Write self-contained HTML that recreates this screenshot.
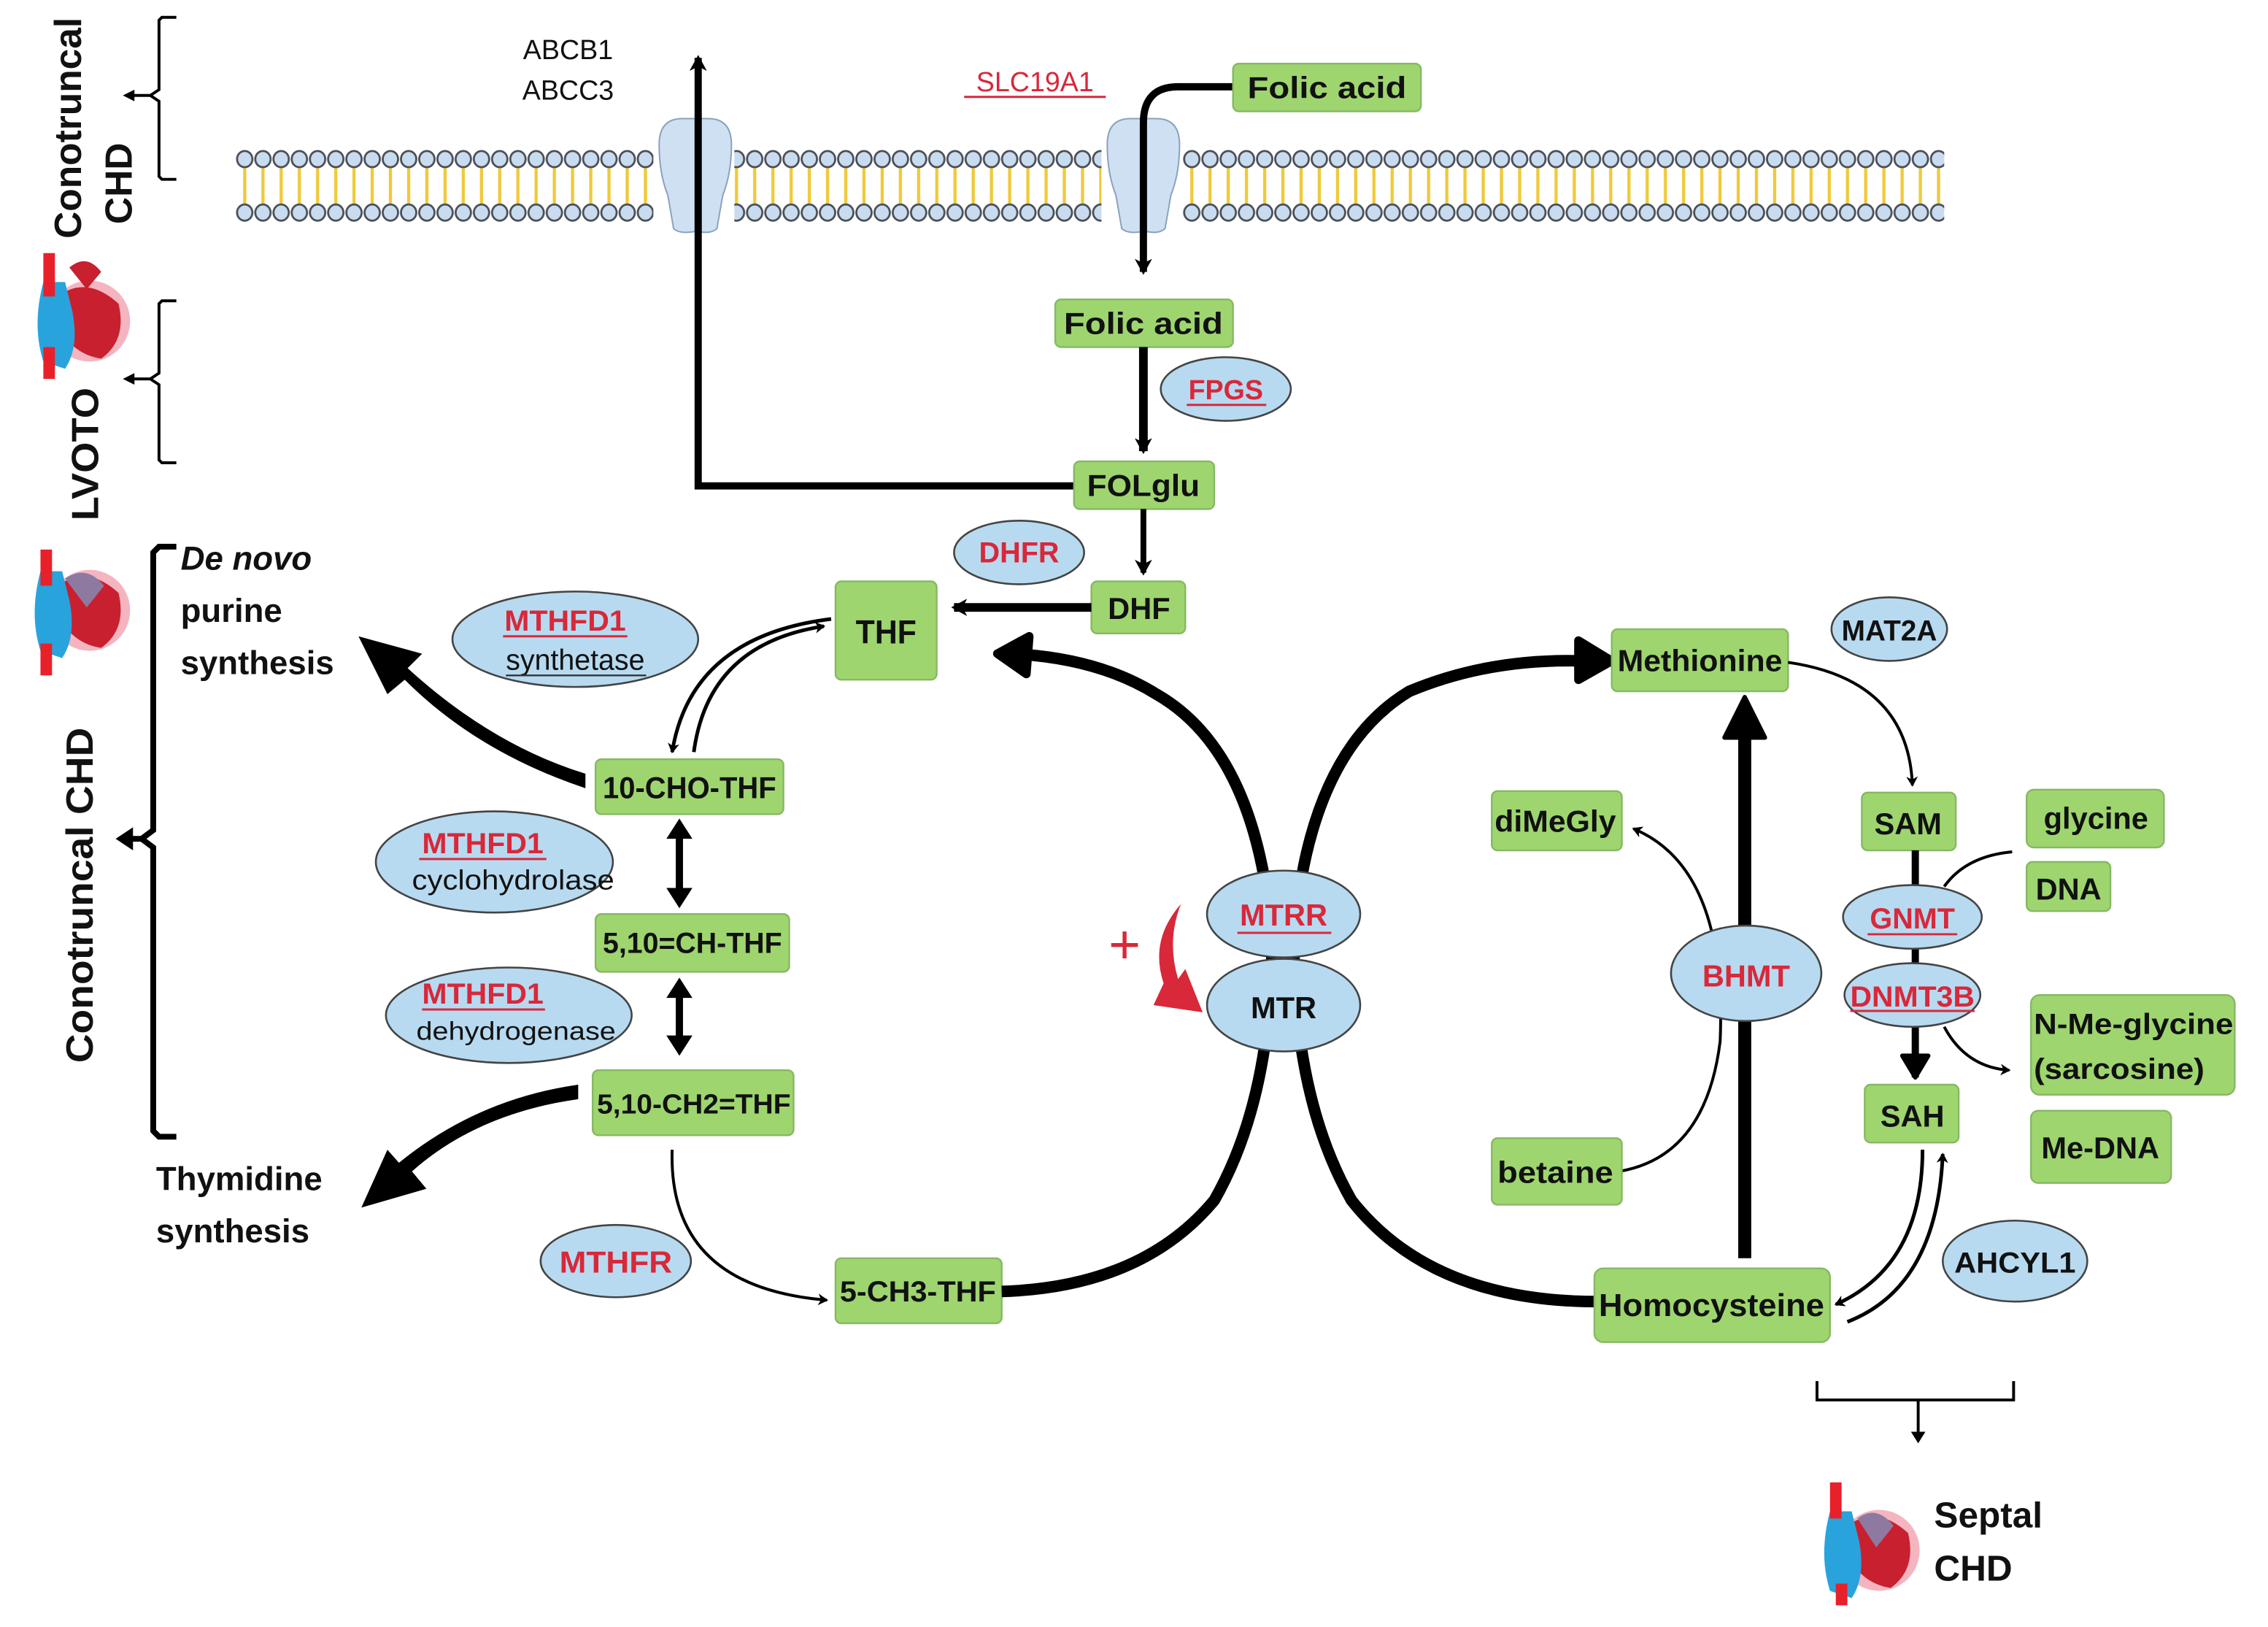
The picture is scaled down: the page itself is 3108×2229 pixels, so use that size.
<!DOCTYPE html>
<html><head><meta charset="utf-8"><style>
html,body{margin:0;padding:0;background:#fff}
svg{display:block}
text{font-family:"Liberation Sans",Arial,sans-serif;font-weight:bold}
.g{fill:#9ed56f;stroke:#86b863;stroke-width:1.2}
.e{fill:#b7daf0;stroke:#444;stroke-width:1.3}
.r{fill:#d8283a}
.k{fill:#111}
</style></head><body>
<svg width="3108" height="2229" viewBox="0 0 1569 1125" preserveAspectRatio="none" xmlns="http://www.w3.org/2000/svg">
<defs>
<pattern id="mem" x="163" y="0" width="12.6" height="1125" patternUnits="userSpaceOnUse">
<line x1="6.3" y1="114" x2="6.3" y2="143" stroke="#f0c93a" stroke-width="2.2"/>
<ellipse cx="6.3" cy="110" rx="5.3" ry="5.6" fill="#c9dcef" stroke="#4a4f57" stroke-width="1.4"/>
<ellipse cx="6.3" cy="147" rx="5.3" ry="5.6" fill="#c9dcef" stroke="#4a4f57" stroke-width="1.4"/>
</pattern>
<marker id="ah" markerWidth="8" markerHeight="8" refX="6" refY="4" orient="auto" markerUnits="userSpaceOnUse">
<path d="M0,0 L7,4 L0,8 L2,4z" fill="#000"/></marker>
<marker id="ah2" markerWidth="12" markerHeight="12" refX="9" refY="6" orient="auto" markerUnits="userSpaceOnUse">
<path d="M0,0 L11,6 L0,12 L3,6z" fill="#000"/></marker>
</defs>

<rect x="163" y="100" width="1182" height="56" fill="url(#mem)"/>
<rect x="452" y="98" width="56" height="60" fill="#fff"/>
<rect x="762" y="98" width="56" height="60" fill="#fff"/>
<g fill="#cfe0f2" stroke="#8aa2bd" stroke-width="1">
<path d="M456,100 Q456,82 472,82 L481,82 L481,160 Q470,162 466,158 L462,135 Q456,120 456,100z"/>
<path d="M506,100 Q506,82 490,82 L483,82 L483,160 Q492,162 496,158 L500,135 Q506,120 506,100z"/>
<path d="M766,100 Q766,82 782,82 L791,82 L791,160 Q780,162 776,158 L772,135 Q766,120 766,100z"/>
<path d="M816,100 Q816,82 800,82 L793,82 L793,160 Q802,162 806,158 L810,135 Q816,120 816,100z"/>
</g>

<path d="M743,336 L483,336 L483,40" fill="none" stroke="#000" stroke-width="5" marker-end="url(#ah2)"/>
<path d="M853,60 L815,60 Q791,60 791,85 L791,188" fill="none" stroke="#000" stroke-width="5" marker-end="url(#ah2)"/>

<text x="393" y="41" font-size="19" style="font-weight:normal" text-anchor="middle" class="k">ABCB1</text>
<text x="393" y="69" font-size="19" style="font-weight:normal" text-anchor="middle" class="k">ABCC3</text>
<text x="716" y="63" font-size="19" style="font-weight:normal" text-anchor="middle" class="r">SLC19A1</text>
<line x1="667" y1="67" x2="765" y2="67" stroke="#d8283a" stroke-width="1.5"/>

<rect class="g" x="853" y="44" width="130" height="33" rx="4"/>
<text x="918" y="68" font-size="21" text-anchor="middle" class="k" textLength="110" lengthAdjust="spacingAndGlyphs">Folic acid</text>

<rect class="g" x="730" y="207" width="123" height="33" rx="4"/>
<text x="791" y="231" font-size="21" text-anchor="middle" class="k" textLength="110" lengthAdjust="spacingAndGlyphs">Folic acid</text>
<ellipse class="e" cx="848" cy="269" rx="45" ry="22"/>
<text x="848" y="276" font-size="19" text-anchor="middle" class="r">FPGS</text>
<line x1="821" y1="280" x2="876" y2="280" stroke="#d8283a" stroke-width="1.5"/>
<line x1="791" y1="240" x2="791" y2="312" stroke="#000" stroke-width="6" marker-end="url(#ah2)"/>

<rect class="g" x="743" y="319" width="97" height="33" rx="4"/>
<text x="791" y="343" font-size="21" text-anchor="middle" class="k" textLength="78" lengthAdjust="spacingAndGlyphs">FOLglu</text>
<line x1="791" y1="352" x2="791" y2="396" stroke="#000" stroke-width="4" marker-end="url(#ah2)"/>
<ellipse class="e" cx="705" cy="382" rx="45" ry="22"/>
<text x="705" y="389" font-size="20" text-anchor="middle" class="r">DHFR</text>

<rect class="g" x="755" y="402" width="65" height="36" rx="4"/>
<text x="788" y="428" font-size="21" text-anchor="middle" class="k">DHF</text>
<line x1="755" y1="420" x2="660" y2="420" stroke="#000" stroke-width="6" marker-end="url(#ah2)"/>

<rect class="g" x="578" y="402" width="70" height="68" rx="4"/>
<text x="613" y="445" font-size="23" text-anchor="middle" class="k" textLength="42" lengthAdjust="spacingAndGlyphs">THF</text>

<ellipse class="e" cx="398" cy="442" rx="85" ry="33"/>
<text x="391" y="436" font-size="20" text-anchor="middle" class="r" textLength="84" lengthAdjust="spacingAndGlyphs">MTHFD1</text>
<line x1="348" y1="440" x2="434" y2="440" stroke="#d8283a" stroke-width="1.5"/>
<text x="398" y="463" font-size="20" style="font-weight:normal" text-anchor="middle" class="k" textLength="96" lengthAdjust="spacingAndGlyphs">synthetase</text>
<line x1="350" y1="467" x2="447" y2="467" stroke="#333" stroke-width="1.2"/>

<path d="M480,520 Q490,445 570,433" fill="none" stroke="#000" stroke-width="2.5" marker-end="url(#ah)"/>
<path d="M575,428 Q478,440 465,520" fill="none" stroke="#000" stroke-width="2.5" marker-end="url(#ah)"/>

<rect class="g" x="412" y="525" width="130" height="38" rx="4"/>
<text x="477" y="552" font-size="21" text-anchor="middle" class="k" textLength="120" lengthAdjust="spacingAndGlyphs">10-CHO-THF</text>

<path d="M405,545 Q330,520 280,470 L268,480 L248,440 L292,452 L282,462 Q340,515 405,535z" fill="#000"/>

<ellipse class="e" cx="342" cy="596" rx="82" ry="35"/>
<text x="334" y="590" font-size="20" text-anchor="middle" class="r" textLength="84" lengthAdjust="spacingAndGlyphs">MTHFD1</text>
<line x1="290" y1="594" x2="378" y2="594" stroke="#d8283a" stroke-width="1.5"/>
<text x="355" y="615" font-size="19" style="font-weight:normal" text-anchor="middle" class="k" textLength="140" lengthAdjust="spacingAndGlyphs">cyclohydrolase</text>

<line x1="470" y1="575" x2="470" y2="620" stroke="#000" stroke-width="5"/>
<path d="M461,580 L470,566 L479,580z M461,614 L470,628 L479,614z" fill="#000"/>

<rect class="g" x="412" y="632" width="134" height="40" rx="4"/>
<text x="479" y="659" font-size="20" text-anchor="middle" class="k" textLength="124" lengthAdjust="spacingAndGlyphs">5,10=CH-THF</text>

<ellipse class="e" cx="352" cy="702" rx="85" ry="33"/>
<text x="334" y="694" font-size="20" text-anchor="middle" class="r" textLength="84" lengthAdjust="spacingAndGlyphs">MTHFD1</text>
<line x1="292" y1="698" x2="377" y2="698" stroke="#d8283a" stroke-width="1.5"/>
<text x="357" y="719" font-size="18" style="font-weight:normal" text-anchor="middle" class="k" textLength="138" lengthAdjust="spacingAndGlyphs">dehydrogenase</text>

<line x1="470" y1="686" x2="470" y2="720" stroke="#000" stroke-width="5"/>
<path d="M461,690 L470,676 L479,690z M461,716 L470,730 L479,716z" fill="#000"/>

<rect class="g" x="410" y="740" width="139" height="45" rx="4"/>
<text x="480" y="770" font-size="19" text-anchor="middle" class="k" textLength="134" lengthAdjust="spacingAndGlyphs">5,10-CH2=THF</text>

<path d="M400,760 Q330,770 285,810 L295,822 L250,835 L268,795 L276,804 Q330,760 400,750z" fill="#000"/>

<ellipse class="e" cx="426" cy="872" rx="52" ry="25"/>
<text x="426" y="880" font-size="21" text-anchor="middle" class="r" textLength="78" lengthAdjust="spacingAndGlyphs">MTHFR</text>

<path d="M465,795 Q462,890 572,899" fill="none" stroke="#000" stroke-width="2" marker-end="url(#ah)"/>

<rect class="g" x="578" y="870" width="115" height="45" rx="4"/>
<text x="635" y="900" font-size="20" text-anchor="middle" class="k" textLength="108" lengthAdjust="spacingAndGlyphs">5-CH3-THF</text>

<path d="M693,893 Q790,890 840,830 Q880,760 880,650 Q870,520 800,480 Q760,455 700,452" fill="none" stroke="#000" stroke-width="8"/>
<path d="M712,440 L690,452 L710,466z" fill="#000" stroke="#000" stroke-width="6" stroke-linejoin="round"/>
<path d="M1105,900 Q990,900 935,830 Q895,760 895,650 Q905,520 975,478 Q1030,455 1095,457" fill="none" stroke="#000" stroke-width="8"/>
<path d="M1092,443 L1115,457 L1092,470z" fill="#000" stroke="#000" stroke-width="6" stroke-linejoin="round"/>

<ellipse class="e" cx="888" cy="632" rx="53" ry="30"/>
<text x="888" y="640" font-size="21" text-anchor="middle" class="r">MTRR</text>
<line x1="856" y1="645" x2="921" y2="645" stroke="#d8283a" stroke-width="1.5"/>
<ellipse class="e" cx="888" cy="695" rx="53" ry="32"/>
<text x="888" y="704" font-size="21" text-anchor="middle" class="k">MTR</text>

<text x="778" y="666" font-size="38" style="font-weight:normal" text-anchor="middle" class="r">+</text>
<path d="M817,625 Q795,650 805,680 L798,695 L832,700 L820,670 L815,677 Q807,650 817,625z" fill="#d8283a"/>

<rect class="g" x="1115" y="435" width="122" height="43" rx="4"/>
<text x="1176" y="464" font-size="21" text-anchor="middle" class="k" textLength="114" lengthAdjust="spacingAndGlyphs">Methionine</text>
<ellipse class="e" cx="1307" cy="435" rx="40" ry="22"/>
<text x="1307" y="443" font-size="20" text-anchor="middle" class="k" textLength="66" lengthAdjust="spacingAndGlyphs">MAT2A</text>
<path d="M1237,458 Q1320,470 1323,543" fill="none" stroke="#000" stroke-width="2" marker-end="url(#ah)"/>

<rect class="g" x="1288" y="548" width="65" height="40" rx="4"/>
<text x="1320" y="577" font-size="21" text-anchor="middle" class="k">SAM</text>
<rect class="g" x="1402" y="546" width="95" height="40" rx="5"/>
<text x="1450" y="573" font-size="21" text-anchor="middle" class="k">glycine</text>
<rect class="g" x="1402" y="596" width="58" height="34" rx="4"/>
<text x="1431" y="622" font-size="21" text-anchor="middle" class="k">DNA</text>

<line x1="1325" y1="588" x2="1325" y2="745" stroke="#000" stroke-width="5"/>
<path d="M1316,730 L1325,745 L1334,730z" fill="#000" stroke="#000" stroke-width="3" stroke-linejoin="round"/>
<path d="M1392,589 Q1360,592 1345,613" fill="none" stroke="#000" stroke-width="2"/>
<path d="M1345,710 Q1360,738 1390,740" fill="none" stroke="#000" stroke-width="2" marker-end="url(#ah)"/>

<ellipse class="e" cx="1323" cy="634" rx="48" ry="22"/>
<text x="1323" y="642" font-size="20" text-anchor="middle" class="r">GNMT</text>
<line x1="1292" y1="646" x2="1354" y2="646" stroke="#d8283a" stroke-width="1.5"/>
<ellipse class="e" cx="1323" cy="688" rx="47" ry="22"/>
<text x="1323" y="696" font-size="20" text-anchor="middle" class="r" textLength="86" lengthAdjust="spacingAndGlyphs">DNMT3B</text>
<line x1="1280" y1="699" x2="1366" y2="699" stroke="#d8283a" stroke-width="1.5"/>

<rect class="g" x="1405" y="688" width="141" height="69" rx="6"/>
<text x="1476" y="715" font-size="20" text-anchor="middle" class="k" textLength="138" lengthAdjust="spacingAndGlyphs">N-Me-glycine</text>
<text x="1466" y="746" font-size="20" text-anchor="middle" class="k" textLength="118" lengthAdjust="spacingAndGlyphs">(sarcosine)</text>
<rect class="g" x="1405" y="768" width="97" height="50" rx="5"/>
<text x="1453" y="801" font-size="21" text-anchor="middle" class="k">Me-DNA</text>

<rect class="g" x="1290" y="750" width="65" height="40" rx="4"/>
<text x="1323" y="779" font-size="21" text-anchor="middle" class="k">SAH</text>

<path d="M1330,795 Q1330,875 1270,902" fill="none" stroke="#000" stroke-width="2.5" marker-end="url(#ah)"/>
<path d="M1278,914 Q1340,890 1344,798" fill="none" stroke="#000" stroke-width="2.5" marker-end="url(#ah)"/>

<ellipse class="e" cx="1394" cy="872" rx="50" ry="28"/>
<text x="1394" y="880" font-size="20" text-anchor="middle" class="k" textLength="84" lengthAdjust="spacingAndGlyphs">AHCYL1</text>

<rect class="g" x="1103" y="877" width="163" height="51" rx="6"/>
<text x="1184" y="910" font-size="22" text-anchor="middle" class="k" textLength="156" lengthAdjust="spacingAndGlyphs">Homocysteine</text>

<line x1="1207" y1="870" x2="1207" y2="505" stroke="#000" stroke-width="9"/>
<path d="M1193,510 L1207,482 L1221,510z" fill="#000" stroke="#000" stroke-width="3" stroke-linejoin="round"/>

<path d="M1120,810 Q1180,800 1190,720 Q1195,600 1130,573" fill="none" stroke="#000" stroke-width="2" marker-end="url(#ah)"/>
<rect class="g" x="1032" y="547" width="90" height="41" rx="4"/>
<text x="1076" y="575" font-size="21" text-anchor="middle" class="k" textLength="84" lengthAdjust="spacingAndGlyphs">diMeGly</text>
<rect class="g" x="1032" y="787" width="90" height="46" rx="4"/>
<text x="1076" y="818" font-size="21" text-anchor="middle" class="k" textLength="80" lengthAdjust="spacingAndGlyphs">betaine</text>
<ellipse class="e" cx="1208" cy="673" rx="52" ry="33"/>
<text x="1208" y="682" font-size="21" text-anchor="middle" class="r">BHMT</text>

<g fill="none" stroke="#000" stroke-width="2">
<path d="M122,12 L112,12 L110,14 L110,62 L104,66 L110,70 L110,122 L112,124 L122,124"/>
<path d="M122,208 L112,208 L110,210 L110,258 L104,262 L110,266 L110,318 L112,320 L122,320"/>
<line x1="104" y1="66" x2="90" y2="66"/>
<line x1="104" y1="262" x2="90" y2="262"/>
</g>
<path d="M85,66 L93,62 L93,70z M85,262 L93,258 L93,266z" fill="#000"/>
<g fill="none" stroke="#000" stroke-width="4">
<path d="M122,378 L110,378 L106,382 L106,574 L98,580 L106,586 L106,782 L110,786 L122,786"/>
<line x1="98" y1="580" x2="88" y2="580"/>
</g>
<path d="M80,580 L92,572 L92,588z" fill="#000"/>

<text transform="translate(56,165) rotate(-90)" font-size="26" class="k" textLength="153" lengthAdjust="spacingAndGlyphs">Conotruncal</text>
<text transform="translate(91,155) rotate(-90)" font-size="26" class="k">CHD</text>
<text transform="translate(68,360) rotate(-90)" font-size="26" class="k" textLength="92" lengthAdjust="spacingAndGlyphs">LVOTO</text>
<text transform="translate(64,735) rotate(-90)" font-size="26" class="k" textLength="232" lengthAdjust="spacingAndGlyphs">Conotruncal CHD</text>

<text x="125" y="394" font-size="23" font-style="italic" class="k">De novo</text>
<text x="125" y="430" font-size="23" class="k">purine</text>
<text x="125" y="466" font-size="23" class="k">synthesis</text>
<text x="108" y="823" font-size="23" class="k">Thymidine</text>
<text x="108" y="859" font-size="23" class="k">synthesis</text>

<path d="M1257,955 L1257,968 L1393,968 L1393,955" fill="none" stroke="#000" stroke-width="2"/>
<line x1="1327" y1="968" x2="1327" y2="992" stroke="#000" stroke-width="2"/>
<path d="M1322,990 L1327,998 L1332,990z" fill="#000"/>
<text x="1338" y="1056" font-size="25" class="k">Septal</text>
<text x="1338" y="1093" font-size="25" class="k">CHD</text>

<g>
<ellipse cx="62" cy="222" rx="28" ry="28" fill="#f4b5c0"/>
<path d="M40,205 Q60,190 82,210 Q88,235 70,248 Q50,245 40,225z" fill="#c8202e"/>
<path d="M30,195 L45,195 L50,215 Q55,240 45,255 L30,250 Q22,225 30,195z" fill="#29a3dc"/>
<rect x="30" y="175" width="8" height="30" fill="#e8202a"/>
<rect x="30" y="240" width="8" height="22" fill="#e8202a"/>
<path d="M48,185 Q60,175 70,188 L60,200z" fill="#c8202e"/>
</g>
<g>
<ellipse cx="62" cy="422" rx="28" ry="28" fill="#f4b5c0"/>
<path d="M40,405 Q60,390 82,410 Q88,435 70,448 Q50,445 40,425z" fill="#c8202e"/>
<path d="M45,400 Q60,390 72,405 L60,420z" fill="#8e7aa0"/>
<path d="M28,395 L43,395 L48,415 Q53,440 43,455 L28,450 Q20,425 28,395z" fill="#29a3dc"/>
<rect x="28" y="380" width="8" height="25" fill="#e8202a"/>
<rect x="28" y="445" width="8" height="22" fill="#e8202a"/>
</g>
<g>
<ellipse cx="1300" cy="1072" rx="28" ry="28" fill="#f4b5c0"/>
<path d="M1278,1055 Q1298,1040 1320,1060 Q1326,1085 1308,1098 Q1288,1095 1278,1075z" fill="#c8202e"/>
<path d="M1285,1050 Q1298,1040 1310,1055 L1298,1070z" fill="#8e7aa0"/>
<path d="M1266,1045 L1281,1045 L1286,1065 Q1291,1090 1281,1105 L1266,1100 Q1258,1075 1266,1045z" fill="#29a3dc"/>
<rect x="1266" y="1025" width="8" height="25" fill="#e8202a"/>
<rect x="1270" y="1095" width="8" height="15" fill="#e8202a"/>
</g>
</svg>
</body></html>
